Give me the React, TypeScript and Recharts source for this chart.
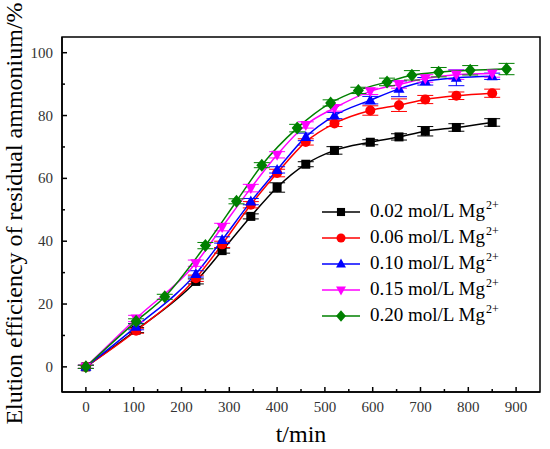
import React from 'react';
import { LineChart, Line, XAxis, YAxis, ErrorBar, ReferenceArea, Legend, Label } from 'recharts';

// time points (min)
const timeStd = [0, 105, 230, 285, 345, 400, 460, 520, 595, 655, 710, 775, 850];
const timeMg020 = [0, 105, 165, 250, 315, 368, 442, 512, 570, 630, 682, 738, 804, 880];

// elution efficiency (%) and error
const mg002 = [0, 11.7, 27.2, 37.0, 47.9, 57.1, 64.5, 68.9, 71.5, 73.2, 75.0, 76.2, 77.8];
const err002 = [0.5, 0.8, 0.8, 0.8, 0.8, 1.5, 0.8, 1.2, 0.8, 1.0, 1.5, 1.2, 1.2];
const mg006 = [0, 11.5, 28.2, 39.0, 51.6, 61.7, 71.6, 77.5, 81.6, 83.3, 85.1, 86.3, 87.1];
const err006 = [0.5, 0.8, 1, 1, 1, 1.2, 1, 1, 1.5, 2, 1.3, 1.2, 1.3];
const mg010 = [0, 12.8, 29.6, 40.4, 52.6, 62.7, 73.2, 80.0, 84.9, 88.5, 90.9, 92.0, 92.5];
const err010 = [0.5, 1, 1, 1, 1, 1, 1.2, 1, 1.2, 2.5, 1.2, 2.5, 1];
const mg015 = [0, 15.4, 33.0, 44.5, 56.9, 67.5, 77.0, 82.4, 87.7, 89.9, 91.8, 93.0, 93.4];
const err015 = [0.5, 1, 1, 1.2, 1.2, 1, 1, 1, 1, 1.2, 1.2, 1.5, 1.2];
const mg020 = [0, 14.5, 22.3, 38.6, 52.7, 64.2, 76.0, 84.0, 88.0, 90.7, 92.8, 93.8, 94.4, 94.8];
const err020 = [0.5, 0.8, 0.8, 1, 0.8, 0.8, 1.2, 1, 1, 1.2, 1.5, 1.5, 1.5, 1.8];

const seriesLabels = ['0.02', '0.06', '0.10', '0.15', '0.20'];
const xTicks = [0, 50, 100, 150, 200, 250, 300, 350, 400, 450, 500, 550, 600, 650, 700, 750, 800, 850, 900];
const yTicks = [0, 10, 20, 30, 40, 50, 60, 70, 80, 90, 100];

const build = (ts: number[], ys: number[], es: number[]) =>
  ts.map((t, i) => ({ t, y: ys[i], err: es[i] }));

type Shape = 'square' | 'circle' | 'up' | 'down' | 'diamond';

const series: { label: string; color: string; shape: Shape; data: any[] }[] = [
  { label: seriesLabels[0], color: '#000000', shape: 'square', data: build(timeStd, mg002, err002) },
  { label: seriesLabels[1], color: '#ff0000', shape: 'circle', data: build(timeStd, mg006, err006) },
  { label: seriesLabels[2], color: '#0000ff', shape: 'up', data: build(timeStd, mg010, err010) },
  { label: seriesLabels[3], color: '#ff00ff', shape: 'down', data: build(timeStd, mg015, err015) },
  { label: seriesLabels[4], color: '#008000', shape: 'diamond', data: build(timeMg020, mg020, err020) },
];

const marker = (shape: Shape, cx: number, cy: number, color: string, key?: string, s = 1) => {
  if (cx == null || cy == null) return <g key={key} />;
  switch (shape) {
    case 'square':
      return <rect key={key} x={cx - 4.5 * s} y={cy - 4.5 * s} width={9 * s} height={9 * s} fill={color} />;
    case 'circle':
      return <circle key={key} cx={cx} cy={cy} r={5 * s} fill={color} />;
    case 'up':
      return (
        <polygon
          key={key}
          points={`${cx},${cy - 6 * s} ${cx - 5.5 * s},${cy + 4 * s} ${cx + 5.5 * s},${cy + 4 * s}`}
          fill={color}
        />
      );
    case 'down':
      return (
        <polygon
          key={key}
          points={`${cx},${cy + 6 * s} ${cx - 5.5 * s},${cy - 4 * s} ${cx + 5.5 * s},${cy - 4 * s}`}
          fill={color}
        />
      );
    default:
      return (
        <polygon
          key={key}
          points={`${cx},${cy - 6.5 * s} ${cx + 5.5 * s},${cy} ${cx},${cy + 6.5 * s} ${cx - 5.5 * s},${cy}`}
          fill={color}
        />
      );
  }
};

const tickStyle = { fontFamily: '"Liberation Serif", "DejaVu Serif", serif', fontSize: 15 };

const XTick = (props: any) => {
  const { x, y, payload } = props;
  const v = payload.value;
  const major = v % 100 === 0;
  return (
    <g>
      <line x1={x} x2={x} y1={y} y2={y - (major ? 5 : 3)} stroke="#000" strokeWidth={1.5} />
      {major && (
        <text x={x} y={y + 20} textAnchor="middle" fill="#333" style={tickStyle}>
          {v}
        </text>
      )}
    </g>
  );
};

const YTick = (props: any) => {
  const { x, y, payload } = props;
  const v = payload.value;
  const major = v % 20 === 0;
  return (
    <g>
      <line x1={x} x2={x + (major ? 5 : 3)} y1={y} y2={y} stroke="#000" strokeWidth={1.5} />
      {major && (
        <text x={x - 9} y={y + 5} textAnchor="end" fill="#333" style={tickStyle}>
          {v}
        </text>
      )}
    </g>
  );
};

const renderLegend = () => (
  <div style={{ fontFamily: '"Liberation Serif", serif', fontSize: 19, color: '#000' }}>
    {series.map((s) => (
      <div key={s.label} style={{ display: 'flex', alignItems: 'center', height: 26 }}>
        <svg width={48} height={26} style={{ display: 'block' }}>
          <line x1={0} x2={38} y1={13} y2={13} stroke={s.color} strokeWidth={1.5} />
          {marker(s.shape, 19, 13, s.color, undefined, 0.9)}
        </svg>
        <span style={{ whiteSpace: 'nowrap', lineHeight: '26px' }}>
          {s.label} mol/L Mg
          <span style={{ fontSize: 12, position: 'relative', top: -8, marginLeft: 1 }}>2+</span>
        </span>
      </div>
    ))}
  </div>
);

const XLabel = (props: any) => {
  const vb = props.viewBox || { x: 62, y: 392, width: 478, height: 57 };
  return (
    <text
      x={vb.x + vb.width / 2}
      y={vb.y + 50}
      textAnchor="middle"
      fill="#000"
      style={{ fontFamily: '"Liberation Serif", serif', fontSize: 24 }}
    >
      t/min
    </text>
  );
};

const YLabel = (props: any) => {
  const vb = props.viewBox || { x: 0, y: 37, width: 62, height: 355 };
  const cx = 22;
  const cy = vb.y + vb.height / 2 - 1;
  return (
    <text
      x={cx}
      y={cy}
      transform={`rotate(-90 ${cx} ${cy})`}
      textAnchor="middle"
      fill="#000"
      style={{ fontFamily: '"Liberation Serif", serif', fontSize: 24 }}
    >
      Elution efficiency of residual ammonium/%
    </text>
  );
};

export default function App() {
  return (
    <div style={{ position: 'absolute', left: 0, top: 0, width: 550, height: 449, background: '#fff' }}>
      <LineChart width={550} height={449} margin={{ top: 37, right: 10, left: 0, bottom: 0 }}>
        <XAxis
          type="number"
          dataKey="t"
          domain={[-50, 950]}
          ticks={xTicks}
          interval={0}
          allowDataOverflow
          height={57}
          tickSize={0}
          tickMargin={0}
          tickLine={false}
          tick={<XTick />}
          axisLine={{ stroke: '#000', strokeWidth: 1.5 }}
        >
          <Label content={<XLabel />} />
        </XAxis>
        <YAxis
          type="number"
          domain={[-8, 105]}
          ticks={yTicks}
          interval={0}
          allowDataOverflow
          width={62}
          tickSize={0}
          tickMargin={0}
          tickLine={false}
          tick={<YTick />}
          axisLine={{ stroke: '#000', strokeWidth: 1.5 }}
        >
          <Label content={<YLabel />} />
        </YAxis>
        <ReferenceArea x1={-50} x2={950} y1={-8} y2={105} fill="none" stroke="#000" strokeWidth={1.5} />
        <Legend
          layout="horizontal"
          verticalAlign="middle"
          align="center"
          content={renderLegend}
          wrapperStyle={{ position: 'absolute', left: 322, top: 199, width: 220, height: 'auto' }}
        />
        {series.map((s) => (
          <Line
            key={s.label}
            data={s.data}
            dataKey="y"
            name={s.label}
            type="monotone"
            stroke={s.color}
            strokeWidth={1.5}
            isAnimationActive={false}
            activeDot={false}
            dot={(p: any) => marker(s.shape, p.cx, p.cy, s.color, `d-${s.label}-${p.index}`)}
          >
            <ErrorBar dataKey="err" direction="y" width={8} stroke={s.color} strokeWidth={1} />
          </Line>
        ))}
      </LineChart>
    </div>
  );
}
